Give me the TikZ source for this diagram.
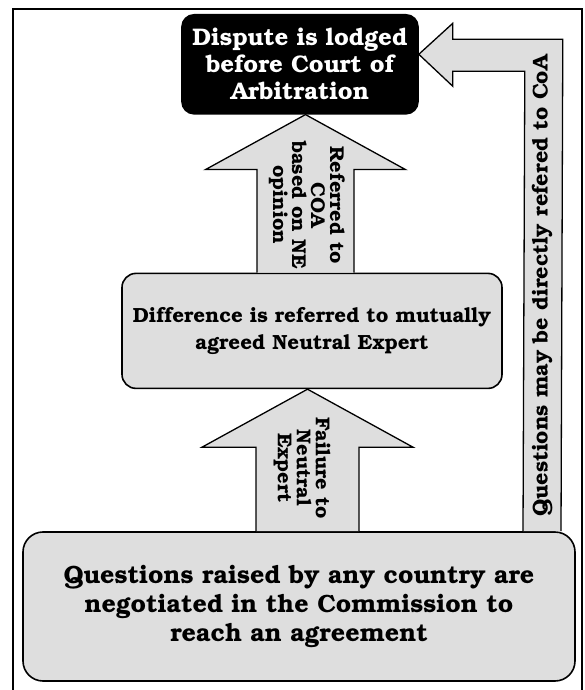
\documentclass[tikz,border=0pt]{standalone}
\usepackage[T1]{fontenc}
\usepackage{bookman}
\definecolor{boxgray}{RGB}{222, 222, 222}
\usetikzlibrary{
  calc,
  positioning,
}
\tikzset{
  stagebox/.style={draw,line width=1.6pt,rectangle,rounded corners=14pt,fill=boxgray,align=center},
  blockarrow/.style={draw,line width=1.3pt,fill=boxgray,line join=miter},
  arrowtext/.style={align=center,font=\bfseries\fontsize{20}{19}\selectfont},
}

\begin{document}
\begin{tikzpicture}[x=1pt,y=1pt,node distance=5mm and 0mm]
        \useasboundingbox (0,0) rectangle (585,690);
        \draw[line width=2.6pt] (13,-5) -- (13,681) -- (582,681) -- (582,-5);

        \node[stagebox,minimum width=552,minimum height=149,rounded corners=20pt,font=\bfseries\fontsize{25}{29}\selectfont]    (s0) at (299,83.5)       {Questions raised by any country are\\negotiated in the Commission to\\reach an agreement};
        \node[stagebox,minimum width=380,minimum height=115,font=\bfseries\fontsize{20.5}{27}\selectfont,xshift=13]    (s1) [above=142pt of s0]       {Difference is referred to mutually\\agreed Neutral Expert};
        \node[stagebox,minimum width=236,minimum height=99,rounded corners=12pt,fill=black,text=white,inner sep=1pt,font=\bfseries\fontsize{24}{27}\selectfont,xshift=-12]    (s2) [above=158pt of s1]       {Dispute is lodged\\before Court of\\Arbitration};

        \coordinate (u0) at (307.5,0);
        \coordinate (u1) at (305.5,0);
        \coordinate (u2) at (542,0);
        \coordinate (b0) at (s0.north -| u0);
        \coordinate (t0) at (s1.south -| u0);
        \coordinate (b1) at (s1.north -| u1);
        \coordinate (t1) at (s2.south -| u1);
        \coordinate (b2) at (s0.north -| u2);
        \coordinate (t2) at ($(s2.east)+(0,10)$);

        \draw[blockarrow] ($(b0)+(-51.5,0)$) -- ($(t0)+(-51.5,-58)$) -- ($(t0)+(-105.5,-58)$) -- (t0) -- ($(t0)+(105.5,-58)$) -- ($(t0)+(51.5,-58)$) -- ($(b0)+(51.5,0)$);
        \draw[blockarrow] ($(b1)+(-48.5,0)$) -- ($(t1)+(-48.5,-55)$) -- ($(t1)+(-100,-55)$) -- (t1) -- ($(t1)+(100,-55)$) -- ($(t1)+(48.5,-55)$) -- ($(b1)+(48.5,0)$);
        \draw[blockarrow] ($(b2)+(-19,0)$) -- ($(t2)+(106,-17)$) -- ($(t2)+(34,-17)$) -- ($(t2)+(34,-32)$) -- (t2) -- ($(t2)+(34,31)$) -- ($(t2)+(34,15)$) -- ($(t2)+(144,15)$) -- ($(b2)+(19,0)$);

        \node[arrowtext,rotate=-90]    (l0) at (302,222)      {Failure to\\Neutral\\Expert};
        \node[arrowtext,rotate=-90]    (l1) at (307,485)      {Referred to\\COA\\based on NE\\opinion};
        \node[arrowtext,rotate=90,font=\bfseries\fontsize{21.5}{20}\selectfont]    (l2) at (542,404)      {Questions may be directly refered to CoA};

    \end{tikzpicture}
\end{document}
